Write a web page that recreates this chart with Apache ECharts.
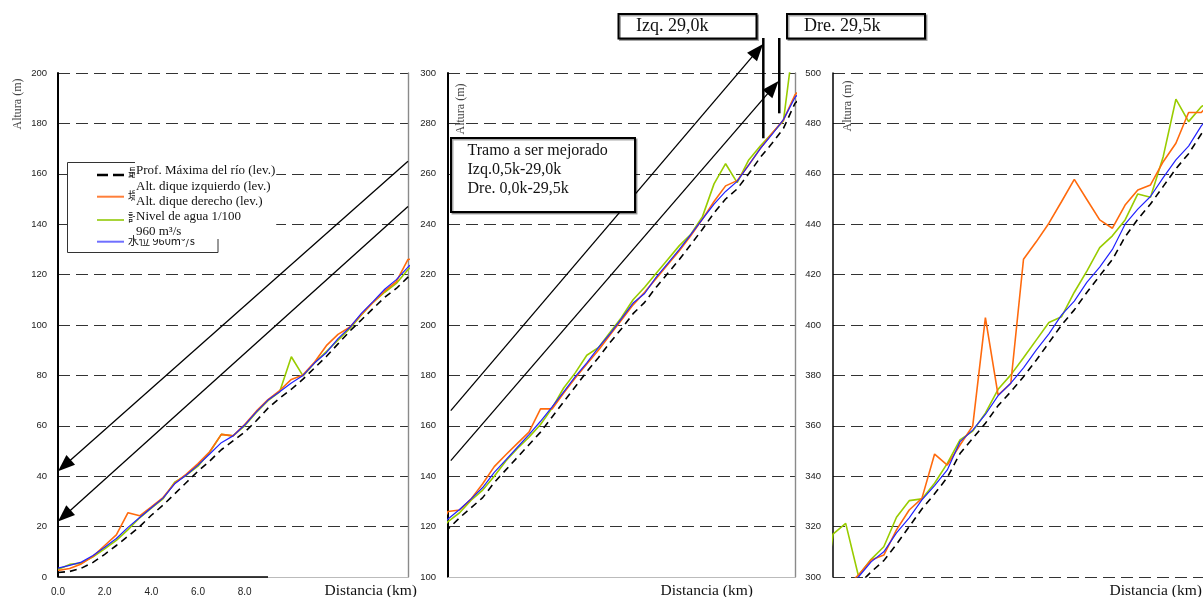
<!DOCTYPE html>
<html>
<head>
<meta charset="utf-8">
<script src="https://cdn.jsdelivr.net/npm/echarts@6/dist/echarts.min.js"></script>
<style>
  html, body { margin: 0; padding: 0; background: #fff; }
  #chart { width: 1203px; height: 597px; }
</style>
</head>
<body>
<div id="chart"></div>
<script>
// Longitudinal river profile, stations every 0.5 km
const distanceKm = [
  0, 0.5, 1, 1.5, 2, 2.5, 3, 3.5, 4, 4.5, 5, 5.5, 6, 6.5, 7, 7.5, 8, 8.5, 9, 9.5, 10, 10.5, 11, 11.5, 12, 12.5, 13, 13.5, 14, 14.5, 15,
  15.5, 16, 16.5, 17, 17.5, 18, 18.5, 19, 19.5, 20, 20.5, 21, 21.5, 22, 22.5, 23, 23.5, 24, 24.5, 25, 25.5, 26, 26.5, 27, 27.5, 28, 28.5, 29, 29.5, 30,
  30.5, 31, 31.5, 32, 32.5, 33, 33.5, 34, 34.5, 35, 35.5, 36, 36.5, 37, 37.5, 38, 38.5, 39, 39.5, 40, 40.5, 41, 41.5, 42, 42.5, 43, 43.5, 44, 44.5, 45
];

// Deepest riverbed elevation (m)
const riverbed = [
  1.8, 2.2, 3.5, 5.8, 9, 12.5, 16.2, 20, 24.5, 28.5, 33, 37.5, 42, 46, 50.5, 54, 57.5, 62, 67, 71, 74.5, 78.5, 83, 87.5, 92.5, 97.5, 102, 106.5, 111, 114.5, 119,
  123.5, 127.5, 131.5, 137.5, 142.5, 147.5, 152.5, 157.5, 163.5, 169.5, 175.5, 181.5, 187, 193, 198.5, 204.5, 209, 215, 220.5, 226, 232, 238, 244.5, 250, 254, 260, 266.5, 272, 278, 288,
  292, 297, 302, 306.5, 313, 320, 327, 333, 339.5, 349, 355, 361, 368, 373.5, 379.5, 386, 393, 400, 406, 413, 419.5, 426, 435, 442, 448, 455, 462, 468, 475.8, 482
];

// Levee crown elevation (m)
const levee = [
  2.6, 3.4, 5.2, 8.2, 12.5, 16.7, 25.5, 24.3, 27.8, 31.5, 37.2, 40.8, 45, 49.7, 56.6, 56, 60.5, 65.8, 70.4, 74, 78.4, 80.2, 85.3, 91.8, 96.3, 99.1, 104.2, 109, 113.5, 117.2, 126,
  126.6, 131, 137, 143.8, 148.5, 153, 157.5, 166.7, 166.7, 173, 179, 184.5, 190, 196, 202, 208, 213, 218.5, 224, 229.5, 235.5, 242, 249, 255.2, 257.3, 263.5, 270, 276, 281.3, 291.3,
  296, 300.8, 306.7, 308.7, 318.7, 326.6, 331.2, 348.8, 344.4, 352.4, 359.9, 402.9, 372.2, 376.9, 426.1, 433, 440.4, 449, 457.8, 449.7, 441.7, 438.4, 447.6, 453.6, 455.6, 464.8, 472.1, 484.3, 484.3, 490
];

// Water level, 1/100 flood (m)
const level100 = [
  3.0, 5.0, 5.5, 8.0, 11.2, 14.5, 18.8, 23.5, 27.3, 31, 37.6, 40.4, 44, 49.5, 56.6, 56, 60, 65.3, 70, 73.5, 87.4, 79.8, 85, 89.5, 94, 98.5, 104, 109, 113, 116.5, 122,
  125.5, 130.5, 134.5, 140, 146, 151, 155.5, 160.5, 167, 175, 181, 188, 191, 197, 203, 210, 215, 220.5, 226, 231.5, 236, 243, 256, 264, 256.5, 265.5, 271, 276, 281, 317,
  321.3, 300.5, 307, 312, 323.7, 330.3, 331, 337.2, 345.1, 354.4, 357.9, 365, 374.5, 380.2, 387, 394, 401, 403.3, 413, 421.5, 430.7, 435.4, 441.7, 452, 450.7, 466.8, 489.6, 480.7, 486.6, 490
];

// Water level for 960 m3/s (m)
const level960 = [
  3.5, 4.6, 5.9, 8.5, 11.8, 15.3, 19.7, 23.6, 27.5, 31.3, 37, 40.5, 44.4, 48.8, 53.3, 56, 60.3, 65.5, 70.2, 73.5, 77, 80, 85, 89, 94.6, 99, 104.6, 109.3, 114.2, 118, 123,
  126.8, 131, 135.5, 141.5, 146.5, 151.5, 156.5, 161.8, 167.5, 173.5, 179.5, 185, 191, 196.5, 202.5, 208.7, 212.5, 219, 224.5, 230, 236, 242, 248, 253, 257, 263.5, 270, 275.5, 281.5, 290.3,
  295, 300, 306, 310, 317.5, 323.5, 330.6, 336.3, 342.5, 353.7, 358.3, 364.5, 372, 376.9, 383, 390, 396.5, 404, 409.5, 417, 423, 430, 440, 446, 451, 458.5, 465.5, 471, 479, 485
];

// Distance window and elevation window of each panel
const panelKm = [[0, 15], [15, 30], [30, 45]];
const panelHeight = [[0, 200], [100, 300], [300, 500]];
const distanceTicks = ['0.0', '2.0', '4.0', '6.0', '8.0'];

// Legend entries (Japanese original underneath the Spanish labels)
const legendJa = ['最深河床高', '堤防高', '計画高水位', '水位 960m³/s'];
const legendEs = ['Prof. Máxima del río (lev.)', 'Alt. dique izquierdo (lev.)', 'Alt. dique derecho (lev.)', 'Nivel de agua 1/100', '960 m³/s'];

// Callout arrows [panel, fromKm, fromH, toKm, toH]
const arrowsKm = [
  [0, 15, 165, 0, 42],
  [0, 15, 147, 0, 22],
  [1, 15.12, 166, 28.62, 311.5],
  [1, 15.12, 146.2, 29.29, 296.8]
];
// Limit marks [panel, km, topH, bottomH]
const limitBars = [
  [1, 28.63, 313.9, 274.1],
  [1, 29.32, 313.9, 284]
];
// Dark baseline under the labelled part of the first axis [km from, km to]
const baseRuleKm = [0, 9.0];

const SERIF = '"Liberation Serif", "Times New Roman", serif';
const SANS = '"Liberation Sans", Arial, sans-serif';

const profiles = [
  { name: 'Nivel de agua 1/100', values: level100, color: '#99cc00', width: 1.6, type: 'solid' },
  { name: 'Alt. dique', values: levee, color: '#ff6a0d', width: 1.6, type: 'solid' },
  { name: '960 m³/s', values: level960, color: '#2222ff', width: 1.2, type: 'solid' },
  { name: 'Prof. Máxima del río', values: riverbed, color: '#000000', width: 1.6, type: [7, 5] }
];

const grids = [
  { left: 58, top: 73, width: 350, height: 504 },
  { left: 448, top: 73, width: 347, height: 504 },
  { left: 833, top: 73, width: 381, height: 504 }
].map(g => Object.assign({ containLabel: false, outerBoundsMode: 'none' }, g));

const gridLine = { show: true, lineStyle: { color: '#333', width: 1, type: [12, 6] } };

const xAxis = panelKm.map((r, g) => ({
  type: 'value', gridIndex: g, min: r[0], max: r[1], interval: 2,
  axisLine: { show: g < 2, lineStyle: { color: '#bbbbbb', width: 1 } },
  axisTick: { show: false },
  splitLine: { show: false },
  axisLabel: {
    show: g === 0, margin: 10, fontSize: 10, color: '#222', fontFamily: SANS,
    formatter: v => { const s = v.toFixed(1); return distanceTicks.indexOf(s) >= 0 ? s : ''; }
  }
}));

const yAxis = panelHeight.map((r, g) => ({
  type: 'value', gridIndex: g, min: r[0], max: r[1], interval: 20,
  axisLine: { show: true, onZero: false, lineStyle: { color: '#000', width: g < 2 ? 2 : 1.5 } },
  axisTick: { show: false },
  splitLine: Object.assign({ showMinLine: g === 2 }, gridLine),
  axisLabel: { margin: g === 0 ? 11 : 12, fontSize: 9.5, color: '#222', fontFamily: SANS }
}));
// right-hand frame of the first two panels
[0, 1].forEach(g => yAxis.push({
  type: 'value', gridIndex: g, position: 'right', min: panelHeight[g][0], max: panelHeight[g][1],
  axisLine: { show: true, onZero: false, lineStyle: { color: '#8a8a8a', width: 1.4 } },
  axisTick: { show: false }, axisLabel: { show: false }, splitLine: { show: false }
}));

const series = [];
panelKm.forEach((r, g) => {
  profiles.forEach(p => {
    series.push({
      type: 'line', name: p.name, xAxisIndex: g, yAxisIndex: g,
      data: distanceKm.map((d, i) => [d, p.values[i]]),
      showSymbol: false, symbol: 'none', clip: true, silent: true,
      lineStyle: { color: p.color, width: p.width, type: p.type },
      z: 3
    });
  });
});

const chart = echarts.init(document.getElementById('chart'));
chart.setOption({
  animation: false,
  backgroundColor: '#fff',
  grid: grids,
  xAxis: xAxis,
  yAxis: yAxis,
  series: series
});

// ---- annotations anchored to the axes ----
const px = (g, d, h) => chart.convertToPixel({ gridIndex: g }, [d, h]);
const graphic = [];

function arrow(a) {
  const p = px(a[0], a[1], a[2]);
  const q = px(a[0], a[3], a[4]);
  const dx = q[0] - p[0], dy = q[1] - p[1];
  const L = Math.hypot(dx, dy), ux = dx / L, uy = dy / L;
  const len = 17, hw = 6.5;
  const bx = q[0] - ux * len, by = q[1] - uy * len;
  graphic.push({ type: 'line', silent: true, z: 50,
    shape: { x1: p[0], y1: p[1], x2: bx + ux * 2, y2: by + uy * 2 },
    style: { stroke: '#000', lineWidth: 1.3 } });
  graphic.push({ type: 'polygon', silent: true, z: 50,
    shape: { points: [[q[0], q[1]], [bx - uy * hw, by + ux * hw], [bx + uy * hw, by - ux * hw]] },
    style: { fill: '#000' } });
}
arrowsKm.forEach(arrow);

limitBars.forEach(b => {
  const t = px(b[0], b[1], b[2]), u = px(b[0], b[1], b[3]);
  graphic.push({ type: 'line', silent: true, z: 55,
    shape: { x1: t[0], y1: t[1], x2: u[0], y2: u[1] },
    style: { stroke: '#000', lineWidth: 2.5 } });
});

{
  const a = px(0, baseRuleKm[0], 0), b = px(0, baseRuleKm[1], 0);
  graphic.push({ type: 'line', silent: true, z: 40,
    shape: { x1: a[0], y1: a[1], x2: b[0], y2: b[1] },
    style: { stroke: '#000', lineWidth: 1.6 } });
}

// boxed notes
function box(x, y, w, h) {
  graphic.push({ type: 'rect', silent: true, z: 60,
    shape: { x: x, y: y, width: w, height: h },
    style: { fill: '#fff', stroke: '#000', lineWidth: 2,
      shadowColor: 'rgba(0,0,0,0.35)', shadowOffsetX: 1.5, shadowOffsetY: 1.5, shadowBlur: 0 } });
}
function label(text, x, y, font, opts) {
  graphic.push({ type: 'text', silent: true, z: (opts && opts.z) || 62,
    rotation: (opts && opts.rotation) || 0, x: x, y: y,
    style: Object.assign({ text: text, x: 0, y: 0, font: font, fill: '#111',
      align: 'left', verticalAlign: 'middle' }, (opts && opts.style) || {}) });
}

box(451, 138, 184, 74);
label('Tramo a ser mejorado\nIzq.0,5k-29,0k\nDre. 0,0k-29,5k', 467.5, 141.5, '16px ' + SERIF,
  { style: { verticalAlign: 'top', lineHeight: 18.8 } });

box(618.5, 14, 138, 24.5);
label('Izq. 29,0k', 636, 26.5, '18px ' + SERIF);
box(787, 14, 138, 24.5);
label('Dre. 29,5k', 804, 26.5, '18px ' + SERIF);

// legend
graphic.push({ type: 'rect', silent: true, z: 60,
  shape: { x: 67.5, y: 162.5, width: 150.5, height: 90 },
  style: { fill: '#fff', stroke: '#333', lineWidth: 1 } });
const legendRowsY = [175, 196.7, 220, 241.7];
const legendColors = ['#000', '#ff7f3a', '#a8d43a', '#6f6fff'];
legendRowsY.forEach((y, i) => {
  graphic.push({ type: 'line', silent: true, z: 61,
    shape: { x1: 97, y1: y, x2: 124, y2: y },
    style: { stroke: legendColors[i], lineWidth: i === 0 ? 2.5 : 2, lineDash: i === 0 ? [11, 5] : null } });
});
[173, 196, 218, 241].forEach((y, i) => label(legendJa[i], 128, y, '11px "Noto Sans CJK JP"', { z: 61 }));
label(legendEs.join('\n'), 135, 161.5, '13px ' + SERIF,
  { z: 63, style: { verticalAlign: 'top', lineHeight: 15.1, backgroundColor: '#fff', padding: [2, 1, 0, 1] } });

// axis titles
[[18, 104], [461, 109], [847.5, 106]].forEach(p =>
  label('Altura (m)', p[0], p[1], '12px ' + SERIF,
    { z: 45, rotation: Math.PI / 2, style: { align: 'center', fill: '#444' } }));
[417, 753, 1202].forEach(x =>
  label('Distancia (km)', x, 591, '15.5px ' + SERIF, { z: 45, style: { align: 'right' } }));

chart.setOption({ graphic: graphic });
</script>
</body>
</html>
